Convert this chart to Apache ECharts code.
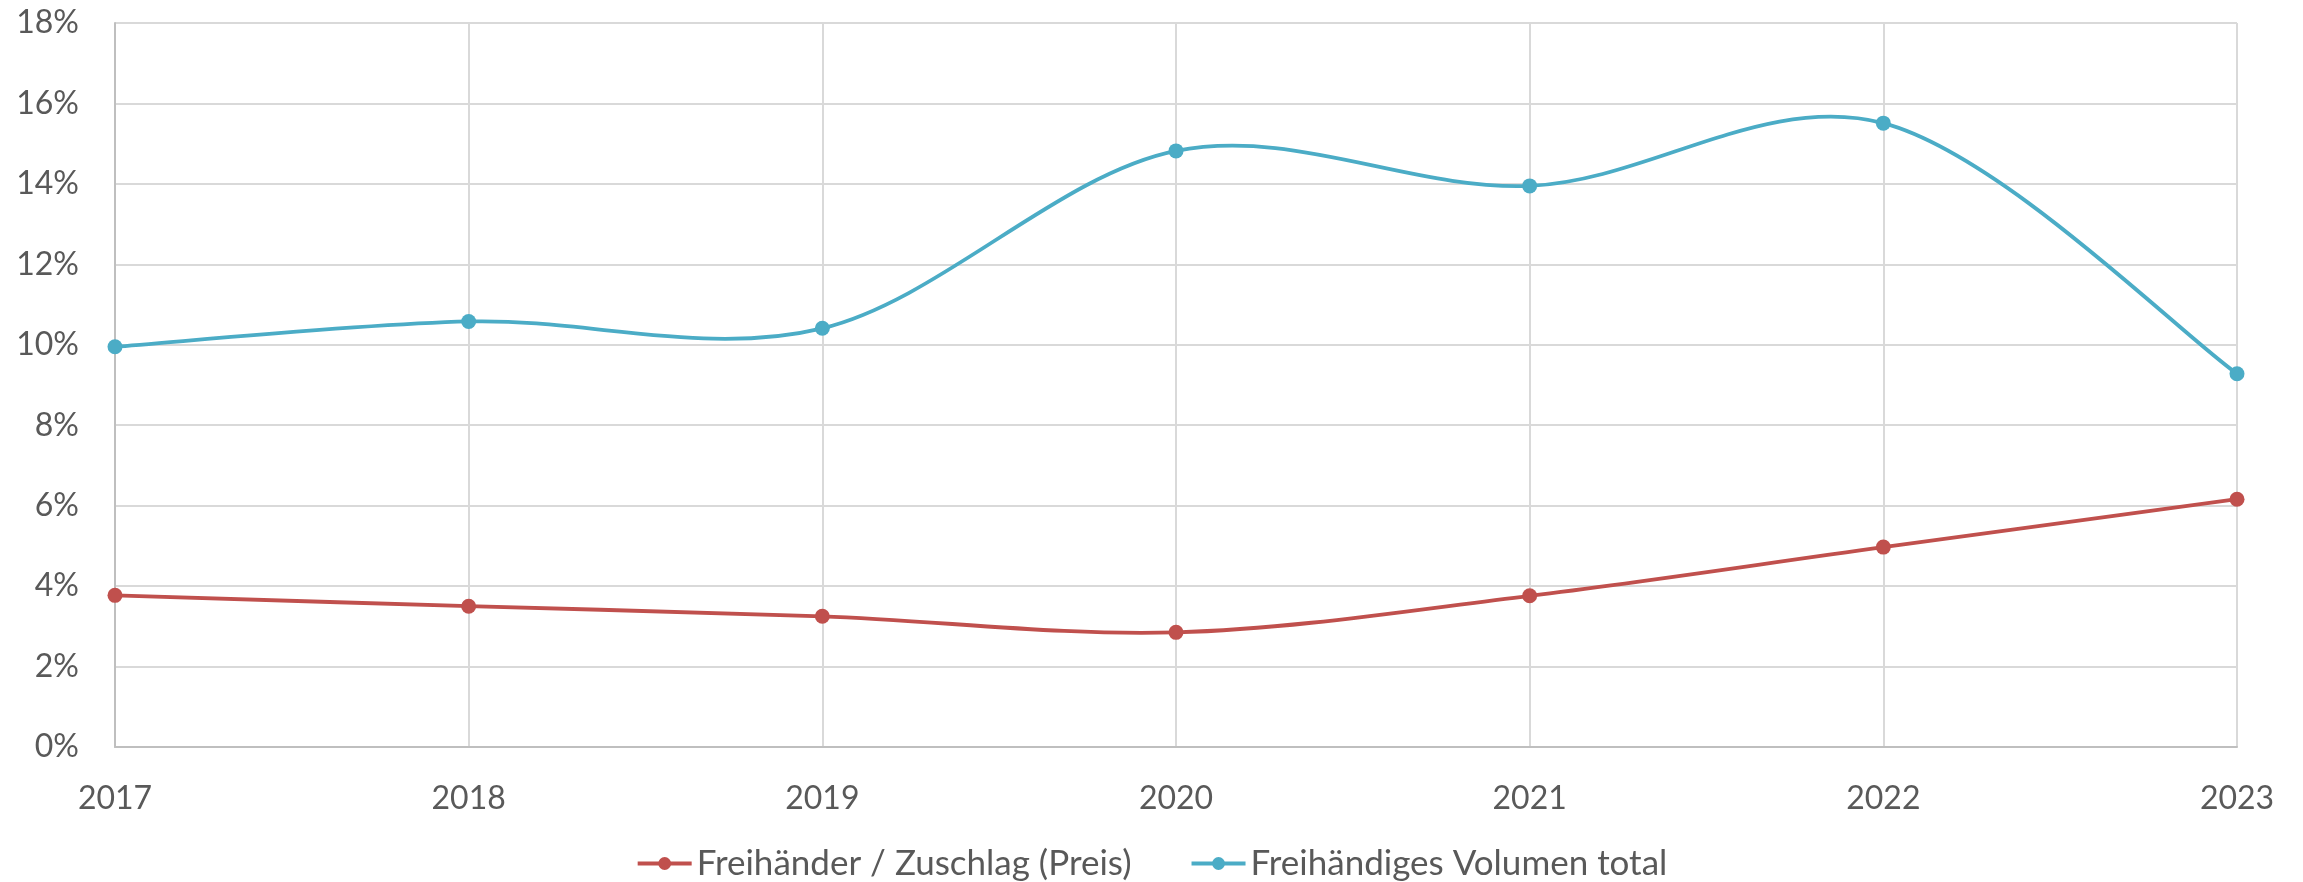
<!DOCTYPE html>
<html>
<head>
<meta charset="utf-8">
<script src="https://cdn.jsdelivr.net/npm/echarts@6/dist/echarts.min.js"></script>
<style>
  html, body { margin: 0; padding: 0; background: #fff; }
  #chart { width: 2303px; height: 882px; }
</style>
</head>
<body>
<div id="chart"></div>
<script>
// Jahre und Werte (in Prozent)
var years = ['2017', '2018', '2019', '2020', '2021', '2022', '2023']
var zuschlagPreis = [3.77, 3.50, 3.25, 2.85, 3.76, 4.97, 6.16]
var volumenTotal = [9.95, 10.58, 10.41, 14.82, 13.95, 15.51, 9.28]
var seriesNames = ['Freihänder / Zuschlag (Preis)', 'Freihändiges Volumen total']
var colors = ['#C0504D', '#4BACC6']

var textColor = '#595959'
var font = 'Lato'

// Excel-artige Glättung (Catmull-Rom -> Bezier), Punkte kommen aus api.coord
function smoothRender(values, color) {
  return function(params, api) {
    var pts = values.map(function(v, i) { return api.coord([i, v]) })
    var d = 'M' + pts[0][0] + ' ' + pts[0][1]
    for (var i = 0; i < pts.length - 1; i++) {
      var p0 = pts[i - 1] || pts[i]
      var p1 = pts[i]
      var p2 = pts[i + 1]
      var p3 = pts[i + 2] || pts[i + 1]
      var c1x = p1[0] + (p2[0] - p0[0]) / 6
      var c1y = p1[1] + (p2[1] - p0[1]) / 6
      var c2x = p2[0] - (p3[0] - p1[0]) / 6
      var c2y = p2[1] - (p3[1] - p1[1]) / 6
      d += ' C' + c1x + ' ' + c1y + ' ' + c2x + ' ' + c2y + ' ' + p2[0] + ' ' + p2[1]
    }
    return {
      type: 'path',
      shape: { pathData: d },
      style: { stroke: color, lineWidth: 3.8, fill: null }
    }
  }
}

var chart = echarts.init(document.getElementById('chart'))

function makeSeries(idx, values) {
  return [
    {
      name: seriesNames[idx],
      type: 'line',
      data: values,
      z: 3,
      symbol: 'circle',
      symbolSize: 15,
      itemStyle: { color: colors[idx] },
      lineStyle: { color: colors[idx], width: 3.8, opacity: 0 }
    },
    {
      name: seriesNames[idx],
      type: 'custom',
      z: 2,
      data: [0],
      renderItem: smoothRender(values, colors[idx]),
      itemStyle: { color: colors[idx] }
    }
  ]
}

var option = {
  backgroundColor: '#ffffff',
  animation: false,
  textStyle: { fontFamily: font },
  grid: {
    left: 115,
    right: 66,
    top: 23,
    bottom: 135
  },
  legend: {
    left: 'center',
    top: 846,
    padding: 0,
    itemWidth: 54,
    itemHeight: 16,
    itemGap: 58,
    textStyle: { fontSize: 35, color: textColor, fontFamily: font },
    data: seriesNames.map(function(n, i) {
      return { name: n, lineStyle: { opacity: 1, width: 4, color: colors[i] } }
    })
  },
  xAxis: {
    type: 'category',
    boundaryGap: false,
    data: years,
    axisTick: { show: false },
    axisLine: { lineStyle: { color: '#BFBFBF', width: 2 } },
    axisLabel: { color: textColor, fontSize: 32, margin: 36, fontFamily: font },
    splitLine: { show: true, lineStyle: { color: '#D9D9D9', width: 2 } }
  },
  yAxis: {
    type: 'value',
    min: 0,
    max: 18,
    interval: 2,
    axisLine: { show: true, lineStyle: { color: '#BFBFBF', width: 2 } },
    axisTick: { show: false },
    axisLabel: { color: textColor, fontSize: 32, margin: 36, fontFamily: font, formatter: '{value}%' },
    splitLine: { lineStyle: { color: '#D9D9D9', width: 2 } }
  },
  series: makeSeries(0, zuschlagPreis).concat(makeSeries(1, volumenTotal))
}

chart.setOption(option)
</script>
</body>
</html>
